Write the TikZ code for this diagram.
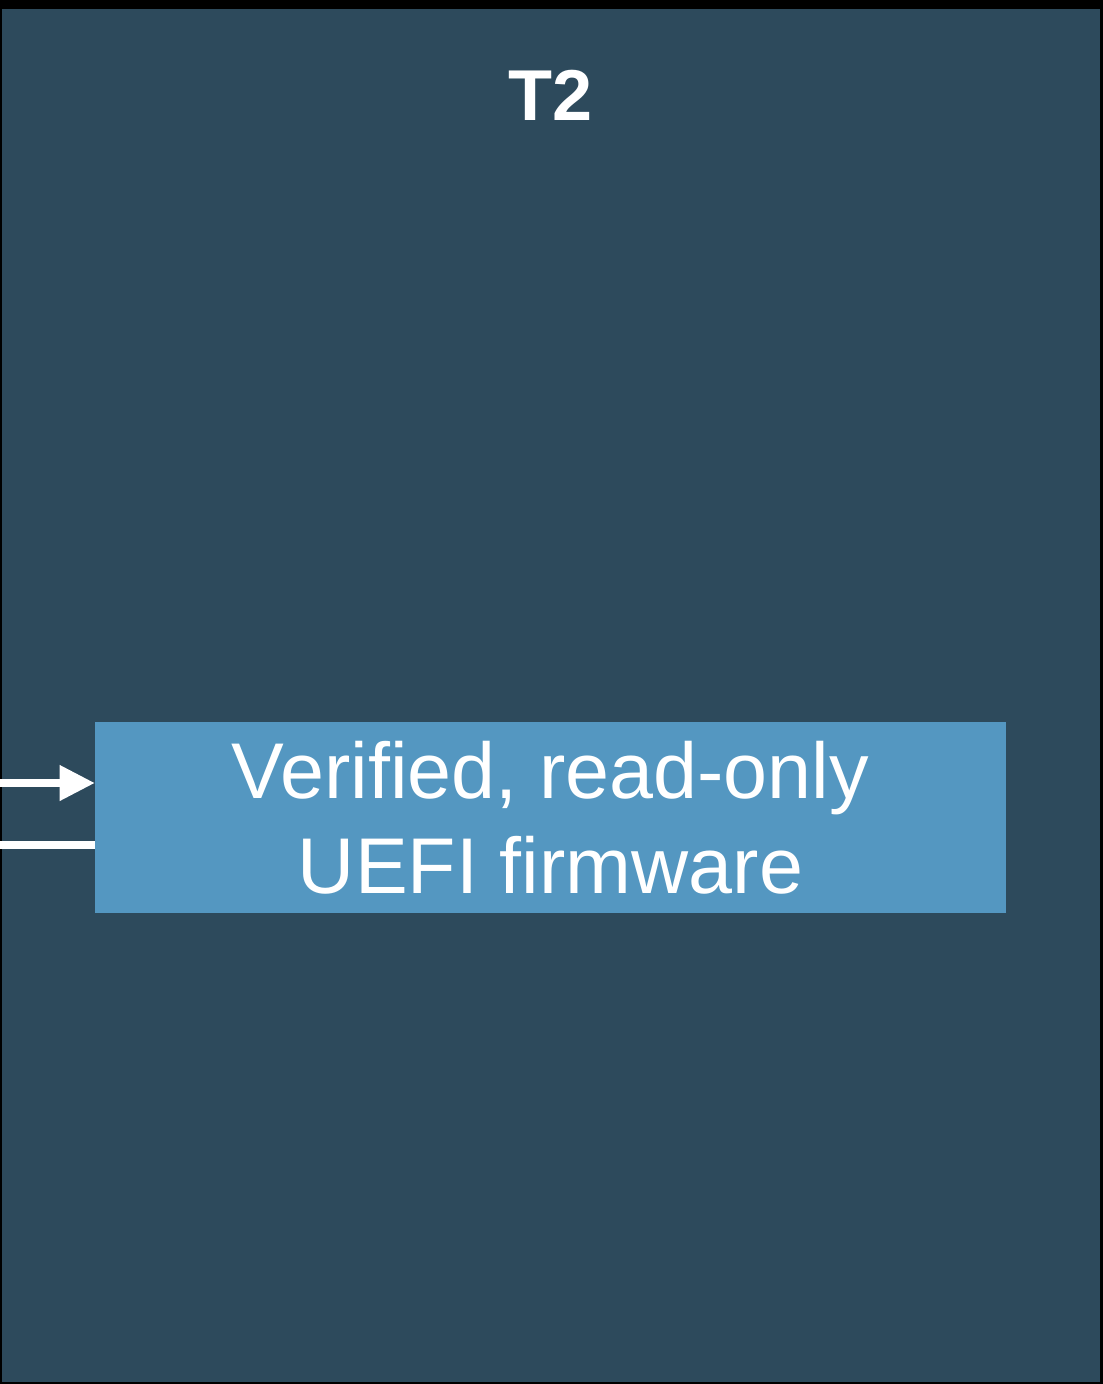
\documentclass[tikz,border=0pt]{standalone}
\usepackage{fontspec}
\setmainfont{Liberation Sans}
\usetikzlibrary{arrows.meta}
\definecolor{chipbg}{HTML}{2D4A5C}
\definecolor{fwblue}{HTML}{5497C1}
\tikzset{
  fwbox/.style={fill=fwblue, text=white, minimum width=18.22cm, minimum height=3.82cm,
    align=center, font=\fontsize{45}{54}\selectfont},
  link/.style={white, line width=4pt}
}
\begin{document}
\begin{tikzpicture}[x=0.02cm,y=-0.02cm]
		% Bakgrunn
		\fill[black] (0,0) rectangle (1103,1384);
		\useasboundingbox (0,0) rectangle (1103,1384);
		% T2-brikke
		\fill[chipbg] (2,9) rectangle (1100,1382);
		\node[text=white, font=\fontsize{41}{49}\selectfont\bfseries] (title) at (551,95) {T2};
		% Fastvare
		\node[fwbox] (fw) at (550.5,817.5) {Verified, read-only\\UEFI firmware};
		% Inn og ut
		\coordinate (inA) at (0,783);
		\coordinate (outA) at (0,845);
		\draw[link,-{Triangle[length=0.7cm,width=0.68cm]}] (inA) -- (inA -| fw.west);
		\draw[link] (outA -| fw.west) -- (outA);
	\end{tikzpicture}
\end{document}
